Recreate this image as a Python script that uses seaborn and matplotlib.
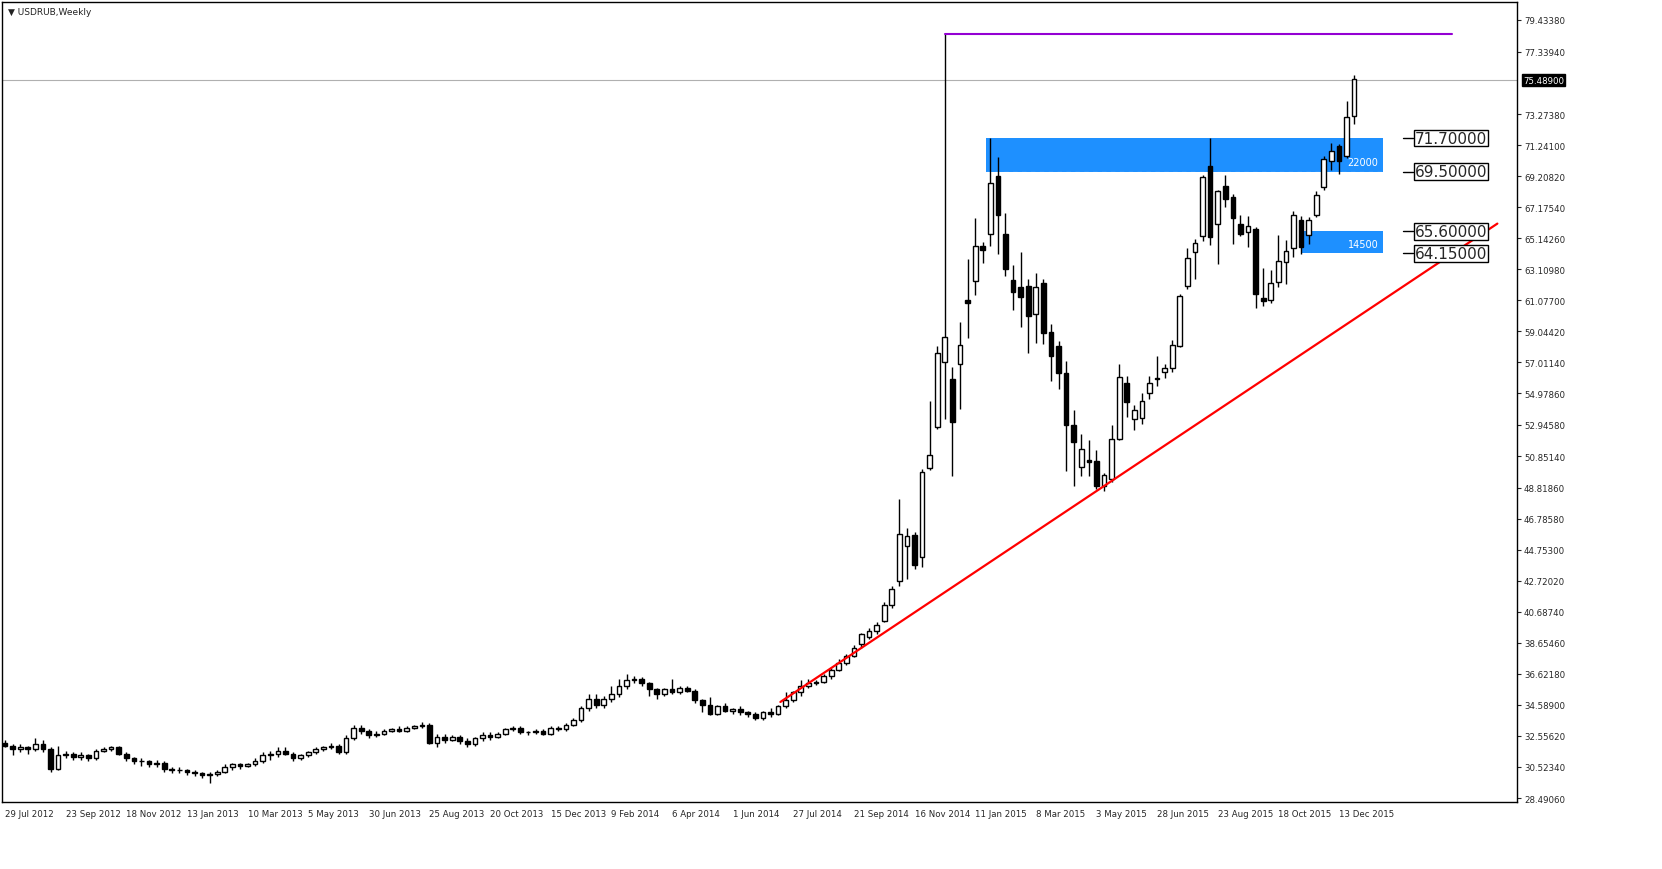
import matplotlib
matplotlib.use("Agg")
import matplotlib.pyplot as plt
from matplotlib.patches import Rectangle
import seaborn as sns
import pandas as pd

# ---- weekly candles USDRUB, 29 Jul 2012 .. Dec 2015 ----
opens = [
    32.1, 31.9, 31.7, 31.8, 31.7, 32.0, 31.7, 30.4, 31.3, 31.4,
    31.2, 31.3, 31.1, 31.6, 31.7, 31.8, 31.4, 31.1, 30.9, 30.9,
    30.7, 30.8, 30.4, 30.3, 30.3, 30.2, 30.1, 30.0, 30.05, 30.2,
    30.5, 30.7, 30.6, 30.7, 30.9, 31.3, 31.4, 31.6, 31.4, 31.1,
    31.3, 31.5, 31.7, 31.8, 31.9, 31.5, 32.4, 33.1, 32.9, 32.6,
    32.7, 32.9, 33.0, 32.9, 33.1, 33.2,
    33.3, 32.1, 32.5, 32.3, 32.5, 32.2, 32.0, 32.4, 32.6, 32.5,
    32.7, 33.0, 33.1, 32.8, 32.8, 32.9, 32.7, 33.1, 33.0, 33.3,
    33.6, 34.4, 35.0, 34.6, 35.0, 35.3, 35.8, 36.2, 36.3, 36.0,
    35.6, 35.3, 35.6, 35.4, 35.7, 35.5, 34.9, 34.6, 34.0, 34.5,
    34.2, 34.3, 34.1, 34.0, 33.7, 34.1, 34.0, 34.5,
    34.9, 35.4, 35.8, 36.0, 36.1, 36.5, 36.9, 37.3, 37.8, 38.6,
    39.06, 39.4, 40.1, 41.1,
    42.69, 45.0, 45.7, 44.24, 50.07, 52.79, 57.02, 55.9, 56.93, 61.1,
    62.37, 64.65, 65.4, 69.24, 65.4, 62.43, 61.96, 62.0, 60.15, 62.24,
    59.0, 58.1, 56.3, 52.9, 50.15, 50.65, 50.53, 48.95, 49.37, 52.0,
    55.66, 53.29, 53.4, 55.03, 56.0, 56.4, 56.67, 58.07, 62.01, 64.26,
    65.26, 69.88, 66.1, 68.56, 67.86, 66.1, 65.52, 65.72, 61.26, 61.07,
    62.27, 63.59, 64.53, 66.35, 65.37, 66.67, 68.49, 70.19, 71.2, 70.55,
    73.17,
]
highs = [
    32.3, 32.0, 32.0, 31.9, 32.4, 32.3, 31.8, 31.9, 31.6, 31.5,
    31.5, 31.4, 31.7, 31.8, 31.9, 31.9, 31.5, 31.2, 31.1, 31.0,
    31.0, 30.9, 30.5, 30.5, 30.4, 30.3, 30.2, 30.2, 30.3, 30.7,
    30.8, 30.8, 30.8, 31.1, 31.5, 31.6, 31.8, 31.8, 31.5, 31.4,
    31.6, 31.8, 31.9, 32.1, 32.0, 32.6, 33.3, 33.3, 33.0, 32.9,
    33.0, 33.1, 33.2, 33.2, 33.3, 33.5,
    33.4, 32.7, 32.7, 32.6, 32.6, 32.4, 32.5, 32.8, 32.8, 32.8,
    33.1, 33.2, 33.2, 32.9, 33.0, 33.0, 33.2, 33.2, 33.4, 33.7,
    34.5, 35.3, 35.3, 35.2, 35.8, 36.3, 36.6, 36.5, 36.4, 36.1,
    35.7, 35.7, 36.3, 35.8, 35.8, 35.6, 35.0, 35.1, 34.6, 34.7,
    34.4, 34.5, 34.2, 34.1, 34.2, 34.4, 34.6, 35.4,
    35.5, 36.2, 36.3, 36.2, 36.6, 37.0, 37.6, 37.9, 38.5, 39.3,
    39.6, 40.0, 41.3, 42.4,
    48.05, 46.2, 45.9, 50.0, 54.5, 58.1, 78.5, 56.73, 59.65, 63.8,
    66.47, 64.9, 71.7, 70.46, 66.78, 63.36, 64.26, 62.5, 62.84, 62.5,
    59.5, 58.4, 57.1, 53.9, 52.3, 51.9, 51.3, 49.8, 52.9, 56.9,
    56.1, 54.25, 55.0, 56.1, 57.45, 56.9, 58.5, 61.5, 64.47, 65.1,
    69.25, 71.7, 68.3, 69.3, 68.03, 66.67, 66.6, 65.9, 63.17, 63.04,
    65.37, 65.0, 66.94, 66.6, 66.56, 68.24, 70.5, 71.4, 71.3, 74.1,
    75.8,
]
lows = [
    31.8, 31.3, 31.5, 31.4, 31.6, 31.5, 30.2, 30.3, 31.1, 31.0,
    31.0, 30.9, 31.0, 31.5, 31.6, 31.3, 30.9, 30.7, 30.6, 30.5,
    30.5, 30.2, 30.1, 30.1, 30.0, 29.9, 29.8, 29.5, 29.9, 30.1,
    30.3, 30.4, 30.5, 30.6, 30.8, 31.0, 31.2, 31.3, 30.9, 31.0,
    31.2, 31.4, 31.6, 31.7, 31.4, 31.4, 32.3, 32.7, 32.4, 32.5,
    32.6, 32.8, 32.8, 32.8, 33.0, 33.1,
    32.0, 31.8, 32.1, 32.2, 32.0, 31.8, 31.9, 32.2, 32.3, 32.4,
    32.6, 32.9, 32.7, 32.6, 32.7, 32.6, 32.6, 32.9, 32.9, 33.2,
    33.5, 34.2, 34.4, 34.4, 34.8, 35.1, 35.6, 36.0, 35.8, 35.2,
    35.0, 35.2, 35.3, 35.3, 35.4, 34.7, 34.1, 33.9, 33.9, 34.1,
    34.0, 33.9, 33.8, 33.6, 33.6, 33.8, 33.9, 34.4,
    34.8, 35.2, 35.7, 35.9, 36.0, 36.3, 36.8, 37.2, 37.7, 38.3,
    38.9, 39.2, 40.0, 40.9,
    42.4, 42.85, 43.5, 43.6, 49.94, 52.66, 53.3, 49.55, 53.95, 58.6,
    61.4, 63.5, 64.65, 64.13, 62.68, 60.43, 59.34, 57.66, 58.28, 58.2,
    55.8, 55.25, 49.9, 48.95, 49.6, 49.6, 48.75, 48.6, 49.2, 51.9,
    53.46, 52.6, 53.0, 54.6, 55.45, 56.0, 56.4, 58.0, 61.8, 62.47,
    64.93, 64.67, 63.46, 67.2, 64.74, 65.26, 64.57, 60.6, 60.7, 60.9,
    61.95, 62.12, 63.9, 64.1, 64.74, 66.5, 68.28, 69.6, 69.33, 70.4,
    72.6,
]
closes = [
    31.9, 31.7, 31.8, 31.7, 32.0, 31.7, 30.4, 31.3, 31.4, 31.2,
    31.3, 31.1, 31.6, 31.7, 31.8, 31.4, 31.1, 30.9, 30.9, 30.7,
    30.8, 30.4, 30.3, 30.3, 30.2, 30.1, 30.0, 30.05, 30.2, 30.5,
    30.7, 30.6, 30.7, 30.9, 31.3, 31.4, 31.6, 31.4, 31.1, 31.3,
    31.5, 31.7, 31.8, 31.9, 31.5, 32.4, 33.1, 32.9, 32.6, 32.7,
    32.9, 33.0, 32.9, 33.1, 33.2, 33.3,
    32.1, 32.5, 32.3, 32.5, 32.2, 32.0, 32.4, 32.6, 32.5, 32.7,
    33.0, 33.1, 32.8, 32.8, 32.9, 32.7, 33.1, 33.0, 33.3, 33.6,
    34.4, 35.0, 34.6, 35.0, 35.3, 35.8, 36.2, 36.3, 36.0, 35.6,
    35.3, 35.6, 35.4, 35.7, 35.5, 34.9, 34.6, 34.0, 34.5, 34.2,
    34.3, 34.1, 34.0, 33.7, 34.1, 34.0, 34.5, 34.9,
    35.4, 35.8, 36.0, 36.1, 36.5, 36.9, 37.3, 37.8, 38.3, 39.2,
    39.4, 39.84, 41.1, 42.2,
    45.8, 45.63, 43.76, 49.86, 50.95, 57.66, 58.67, 53.1, 58.18, 60.9,
    64.65, 64.4, 68.77, 66.65, 63.15, 61.65, 61.29, 60.04, 61.93, 58.93,
    57.4, 56.3, 52.9, 51.8, 51.37, 50.5, 48.95, 49.62, 52.0, 56.04,
    54.45, 53.92, 54.51, 55.66, 55.9, 56.67, 58.18, 61.39, 63.84, 64.84,
    69.12, 65.2, 68.24, 67.72, 66.46, 65.41, 65.93, 61.49, 61.01, 62.2,
    63.63, 64.32, 66.67, 64.57, 66.35, 67.97, 70.3, 70.86, 70.19, 73.06,
    75.58,
]

start_date = "2012-07-29"
tick_labels = ["29 Jul 2012", "23 Sep 2012", "18 Nov 2012", "13 Jan 2013", "10 Mar 2013",
               "5 May 2013", "30 Jun 2013", "25 Aug 2013", "20 Oct 2013", "15 Dec 2013",
               "9 Feb 2014", "6 Apr 2014", "1 Jun 2014", "27 Jul 2014", "21 Sep 2014",
               "16 Nov 2014", "11 Jan 2015", "8 Mar 2015", "3 May 2015", "28 Jun 2015",
               "23 Aug 2015", "18 Oct 2015", "13 Dec 2015"]
price_ticks = [79.43380, 77.33940, 73.27380, 71.24100, 69.20820, 67.17540, 65.14260,
               63.10980, 61.07700, 59.04420, 57.01140, 54.97860, 52.94580, 50.85140,
               48.81860, 46.78580, 44.75300, 42.72020, 40.68740, 38.65460, 36.62180,
               34.58900, 32.55620, 30.52340, 28.49060]
last_price = 75.489
spike_high = 78.5
zones = [(71.70, 69.50, "22000"), (65.60, 64.15, "14500")]
trend_x = [102.3, 196.9]
trend_y = [34.78, 66.1]

df = pd.DataFrame({"open": opens, "high": highs, "low": lows, "close": closes})
df["i"] = range(len(df))
df["date"] = pd.date_range(start_date, periods=len(df), freq="7D")

sns.set_style("white")
plt.rcParams["font.family"] = "DejaVu Sans"

fig = plt.figure(figsize=(16.62, 8.70), dpi=100)
ax = fig.add_axes([0.0012, 0.077, 0.9116, 0.9196])
ax.set_xlim(-0.4, 199.5)
ax.set_ylim(28.229, 80.612)

# candles
ax.vlines(df["i"], df["low"], df["high"], color="black", lw=1, zorder=3)
up = df[df["close"] >= df["open"]]
dn = df[df["close"] < df["open"]]
ax.bar(up["i"], up["close"] - up["open"], bottom=up["open"], width=0.62,
       color="white", edgecolor="black", linewidth=1, zorder=4)
ax.bar(dn["i"], dn["open"] - dn["close"], bottom=dn["close"], width=0.62,
       color="black", edgecolor="black", linewidth=1, zorder=4)

# supply zones
for (top, bot, vol), x0 in zip(zones, [129.4, 171.1]):
    ax.add_patch(Rectangle((x0, bot), 181.8 - x0, top - bot, color="#1e90ff", zorder=2, lw=0))
    ax.text(181.2, bot + 0.3, vol, color="white", fontsize=7, ha="right", va="bottom", zorder=5)
    for val in (top, bot):
        ax.plot([184.5, 185.8], [val, val], color="black", lw=1, zorder=5)
        ax.text(186.0, val, f"{val:.5f}", fontsize=11, va="center", ha="left", zorder=6,
                bbox=dict(boxstyle="square,pad=0.05", fc="white", ec="black", lw=1))
ax.plot([129.4, 181.8], [69.5, 69.5], color="white", lw=0.8, ls=(0, (4, 4)), zorder=2)

# spike level, current price, trendline
ax.plot([124, 190.9], [spike_high, spike_high], color="#9400d3", lw=1.5, zorder=5)
ax.axhline(last_price, color="#b0b0b0", lw=0.8, zorder=1)
sns.lineplot(x=trend_x, y=trend_y, ax=ax, color="red", lw=1.6, zorder=5)

# axes
ax.yaxis.tick_right()
ax.set_yticks(price_ticks)
ax.set_yticklabels([f"{v:.5f}" for v in price_ticks], fontsize=6.2)
ax.tick_params(axis="y", length=3, pad=2)
ax.text(1.004, (last_price - 28.229) / (80.612 - 28.229), f"{last_price:.5f}",
        transform=ax.transAxes, fontsize=6.2, color="white", va="center", ha="left",
        bbox=dict(boxstyle="square,pad=0.15", fc="black", ec="black"))
ax.set_xticks([8 * k for k in range(len(tick_labels))])
ax.set_xticklabels(tick_labels, fontsize=6.2, ha="left")
ax.tick_params(axis="x", length=3, pad=2)
for s in ax.spines.values():
    s.set_color("black")
    s.set_linewidth(1)
ax.set_xlabel("")
ax.set_ylabel("")
ax.text(0.004, 0.994, "\u25bc USDRUB,Weekly", transform=ax.transAxes, fontsize=6.5,
        va="top", ha="left", color="#222222")

fig.savefig("out.png", dpi=100)
